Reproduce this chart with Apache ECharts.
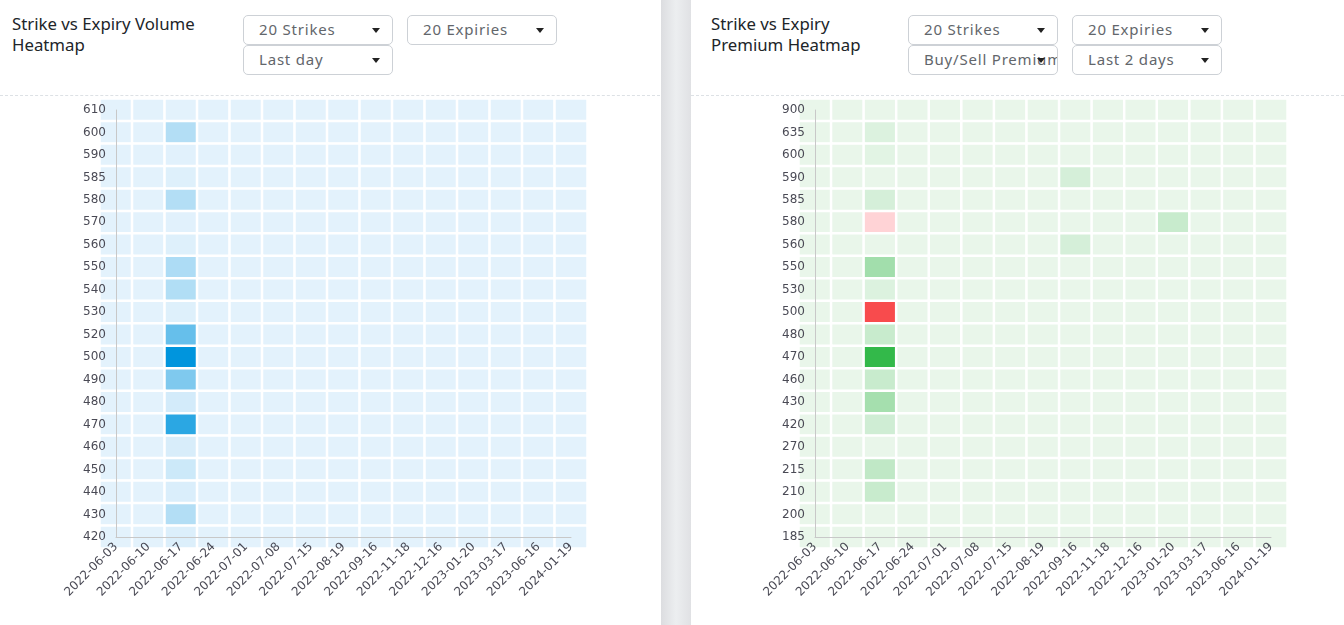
<!DOCTYPE html>
<html><head><meta charset="utf-8">
<script src="https://cdn.jsdelivr.net/npm/echarts@6/dist/echarts.min.js"></script>
<style>
html,body{margin:0;padding:0;width:1344px;height:625px;overflow:hidden;background:#fff;font-family:"Noto Sans",sans-serif;}
.sep{position:absolute;left:661px;top:0;width:30px;height:625px;background:linear-gradient(to right,#dcdde0,#eceef0 50%,#e0e1e4);}
.title{position:absolute;font-size:16.8px;line-height:21px;color:#212529;}
.dd{position:absolute;width:150px;height:30px;box-sizing:border-box;border:1px solid #cdd1d6;border-radius:5px;background:#fff;font-size:15px;color:#62666b;line-height:27px;padding-left:15px;white-space:nowrap;overflow:hidden;letter-spacing:0.8px;}
.dd:after{content:"";position:absolute;right:12px;top:12px;border-left:4px solid transparent;border-right:4px solid transparent;border-top:5px solid #222;}
.dash{position:absolute;top:95px;height:0;border-top:1px dashed #dde1e5;}
#chart{position:absolute;left:0;top:0;width:1344px;height:625px;}
</style></head>
<body>
<div class="dash" style="left:0;width:660px"></div>
<div class="dash" style="left:691px;width:653px"></div>
<div class="sep"></div>
<div class="title" style="left:12px;top:13px">Strike vs Expiry Volume<br>Heatmap</div>
<div class="dd" style="left:243px;top:15px">20 Strikes</div>
<div class="dd" style="left:407px;top:15px">20 Expiries</div>
<div class="dd" style="left:243px;top:45px">Last day</div>
<div class="title" style="left:711px;top:13px">Strike vs Expiry<br>Premium Heatmap</div>
<div class="dd" style="left:908px;top:15px">20 Strikes</div>
<div class="dd" style="left:1072px;top:15px">20 Expiries</div>
<div class="dd" style="left:908px;top:45px">Buy/Sell Premium</div>
<div class="dd" style="left:1072px;top:45px">Last 2 days</div>
<div id="chart"></div>
<script>
const expiries = ['2022-06-03','2022-06-10','2022-06-17','2022-06-24','2022-07-01','2022-07-08','2022-07-15','2022-08-19','2022-09-16','2022-11-18','2022-12-16','2023-01-20','2023-03-17','2023-06-16','2024-01-19'];

const volStrikes = ['610','600','590','585','580','570','560','550','540','530','520','500','490','480','470','460','450','440','430','420'];
const volRows = [
  [0,0,0,0,0,0,0,0,0,0,0,0,0,0,0],
  [0,0,21,0,0,0,0,0,0,0,0,0,0,0,0],
  [0,0,1,0,0,0,0,0,0,0,0,0,0,0,0],
  [0,0,2,0,0,0,0,0,0,0,0,0,0,0,0],
  [0,0,21,0,0,0,0,0,0,0,0,0,0,0,0],
  [0,0,1,0,0,0,0,0,0,0,0,0,0,0,0],
  [0,0,2,0,0,0,0,0,0,0,0,0,0,0,0],
  [0,0,24,0,0,0,0,0,0,0,0,0,0,0,0],
  [0,0,22,0,0,0,0,0,0,0,0,0,0,0,0],
  [0,0,2,0,0,0,0,0,0,0,0,0,0,0,0],
  [0,0,55,0,0,0,0,0,0,0,0,0,0,0,0],
  [0,0,100,0,0,0,0,0,0,0,0,0,0,0,0],
  [0,0,44,0,0,0,0,0,0,0,0,0,0,0,0],
  [0,0,7,0,0,0,0,0,0,0,0,0,0,0,0],
  [0,0,81,0,0,0,0,0,0,0,0,0,0,0,0],
  [0,0,5,0,0,0,0,0,0,0,0,0,0,0,0],
  [0,0,10,0,0,0,0,0,0,0,0,0,0,0,0],
  [0,0,4,0,0,0,0,0,0,0,0,0,0,0,0],
  [0,0,21,0,0,0,0,0,0,0,0,0,0,0,0],
  [0,0,3,0,0,0,0,0,0,0,0,0,0,0,0]
];

const premStrikes = ['900','635','600','590','585','580','560','550','530','500','480','470','460','430','420','270','215','210','200','185'];
const premRows = [
  [0,0,0,0,0,0,0,0,0,0,0,0,0,0,0],
  [0,0,9,0,0,0,0,0,0,0,0,0,0,0,0],
  [0,0,5,0,0,0,0,0,0,0,0,0,0,0,0],
  [0,0,0,0,0,0,0,0,14,0,0,0,0,0,0],
  [0,0,14,0,0,0,0,0,0,0,0,0,0,0,0],
  [0,0,-50,0,0,0,0,0,0,0,0,23,0,0,0],
  [0,0,0,0,0,0,0,0,14,0,0,0,0,0,0],
  [0,0,50,0,0,0,0,0,0,0,0,0,0,0,0],
  [0,0,9,0,0,0,0,0,0,0,0,0,0,0,0],
  [0,0,-100,0,0,0,0,0,0,0,0,0,0,0,0],
  [0,0,23,0,0,0,0,0,0,0,0,0,0,0,0],
  [0,0,100,0,0,0,0,0,0,0,0,0,0,0,0],
  [0,0,23,0,0,0,0,0,0,0,0,0,0,0,0],
  [0,0,48,0,0,0,0,0,0,0,0,0,0,0,0],
  [0,0,18,0,0,0,0,0,0,0,0,0,0,0,0],
  [0,0,0,0,0,0,0,0,0,0,0,0,0,0,0],
  [0,0,29,0,0,0,0,0,0,0,0,0,0,0,0],
  [0,0,23,0,0,0,0,0,0,0,0,0,0,0,0],
  [0,0,0,0,0,0,0,0,0,0,0,0,0,0,0],
  [0,0,0,0,0,0,0,0,0,0,0,0,0,0,0]
];

function toCells(rows){
  const out = [];
  rows.forEach((r,i)=>r.forEach((v,j)=>out.push([j,i,v])));
  return out;
}

const labelStyle = {fontSize:12, color:'#4a4a55', fontFamily:'DejaVu Sans'};
function xAx(g){
  return {gridIndex:g,type:'category',data:expiries,boundaryGap:false,z:5,
    axisLine:{lineStyle:{color:'#c8c8c8'}},axisTick:{show:false},splitLine:{show:false},
    axisLabel:Object.assign({rotate:45,interval:0,margin:8},labelStyle)};
}
function yAx(g,cats){
  return {gridIndex:g,type:'category',data:cats,inverse:true,boundaryGap:false,z:5,
    axisLine:{lineStyle:{color:'#c8c8c8'}},axisTick:{show:false},splitLine:{show:false},
    axisLabel:Object.assign({interval:0,margin:10},labelStyle)};
}

const chart = echarts.init(document.getElementById('chart'));
chart.setOption({
  animation:false,
  grid:[{left:116,top:110,width:455,height:427},{left:815,top:110,width:456,height:427}],
  xAxis:[xAx(0),xAx(1)],
  yAxis:[yAx(0,volStrikes),yAx(1,premStrikes)],
  visualMap:[
    {show:false,seriesIndex:0,min:0,max:100,inRange:{color:['#e3f2fc','#0095dd']}},
    {show:false,seriesIndex:1,min:-100,max:100,inRange:{color:['#f84b4d','#ffd3d6','#e9f6ea','#a2deac','#33b94a']}}
  ],
  series:[
    {type:'heatmap',xAxisIndex:0,yAxisIndex:0,data:toCells(volRows),itemStyle:{borderColor:'#fff',borderWidth:2.5},emphasis:{disabled:true}},
    {type:'heatmap',xAxisIndex:1,yAxisIndex:1,data:toCells(premRows),itemStyle:{borderColor:'#fff',borderWidth:2.5},emphasis:{disabled:true}}
  ]
});
</script>
</body></html>
